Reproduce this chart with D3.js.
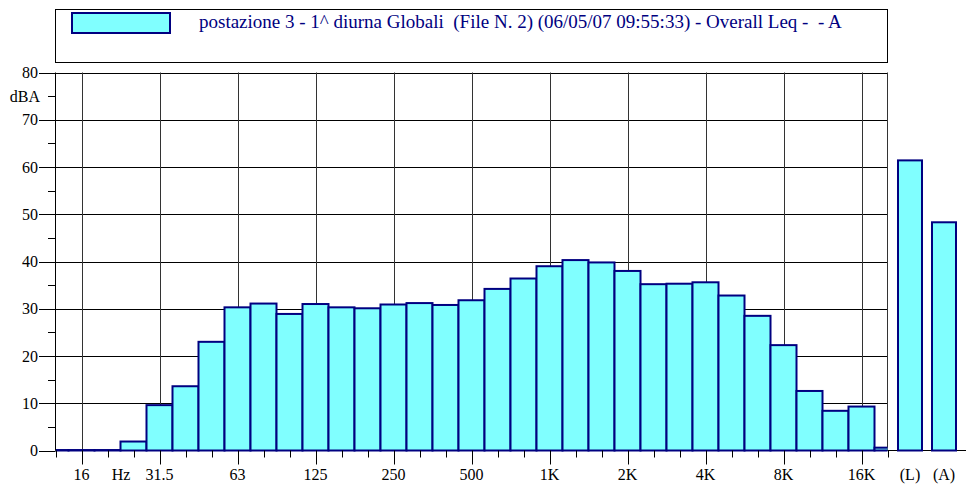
<!DOCTYPE html>
<html>
<head>
<meta charset="utf-8">
<script src="https://cdn.jsdelivr.net/npm/d3@7"></script>
<style>
  html, body { margin: 0; padding: 0; background: #fff; }
  svg { display: block; }
</style>
</head>
<body>
<svg id="chart" width="966" height="485" font-family="'Liberation Serif', 'Times New Roman', Times, 'DejaVu Serif', serif"></svg>
<script>
// ---- Data ----
const bands = ["12.5","16","20","25","31.5","40","50","63","80","100","125","160","200","250","315","400","500","630","800","1K","1.25K","1.6K","2K","2.5K","3.15K","4K","5K","6.3K","8K","10K","12.5K","16K","20K"];
const levels = [0.1,0.1,0.1,1.9,9.6,13.6,23.0,30.3,31.1,28.9,31.0,30.3,30.1,30.9,31.2,30.8,31.8,34.2,36.4,39.0,40.3,39.8,38.0,35.2,35.3,35.6,32.8,28.5,22.3,12.6,8.4,9.3,0.6];
const labeledBands = ["16","31.5","63","125","250","500","1K","2K","4K","8K","16K"];
const totalLabels = ["(L)","(A)"];
const totalValues = [61.4,48.3];
const yTicksMajor = [0,10,20,30,40,50,60,70,80];
const yTicksMinor = [5,15,25,35,45,55,65,75];
const legendText = "postazione 3 - 1^ diurna Globali  (File N. 2) (06/05/07 09:55:33) - Overall Leq -  - A";

// ---- Layout ----
const fill = "#80FFFF", stroke = "#000080";
const plotL = 55.5, plotR = 887.5, plotT = 72.5, plotB = 450.5;
const axisFont = 16;
const svg = d3.select("#chart");

const x = d3.scalePoint().domain(bands).range([55.5, 887.5]).padding(0);
const step = x.step();
const y = d3.scaleLinear().domain([0, 80]).range([plotB, plotT]);
const xt = d3.scaleBand().domain(totalLabels).range([893, 961]).paddingInner(0.294).paddingOuter(0.147);

// clip
svg.append("defs").append("clipPath").attr("id", "plotclip")
  .append("rect").attr("x", plotL).attr("y", 0).attr("width", plotR - plotL).attr("height", plotB + 2);

// legend
const lg = svg.append("g");
lg.append("rect").attr("x", 55.5).attr("y", 9.5).attr("width", 832).attr("height", 53)
  .attr("fill", "none").attr("stroke", "#000").attr("stroke-width", 1);
lg.append("rect").attr("x", 72).attr("y", 13).attr("width", 98).attr("height", 20)
  .attr("fill", fill).attr("stroke", stroke).attr("stroke-width", 2);
lg.append("text").attr("x", 199).attr("y", 27.7).attr("fill", "#000080")
  .attr("font-size", 19).style("white-space", "pre").text(legendText);

// horizontal grid
svg.append("g").selectAll("line").data(yTicksMajor.filter(d => d > 0)).join("line")
  .attr("x1", plotL).attr("x2", plotR)
  .attr("y1", d => Math.round(y(d)) + 0.5).attr("y2", d => Math.round(y(d)) + 0.5)
  .attr("stroke", "#000").attr("stroke-width", 1);

// vertical grid
svg.append("g").selectAll("line").data(labeledBands).join("line")
  .attr("x1", d => Math.round(x(d)) + 0.5).attr("x2", d => Math.round(x(d)) + 0.5)
  .attr("y1", plotT).attr("y2", plotB)
  .attr("stroke", "#333").attr("stroke-width", 1);
// right frame
svg.append("line").attr("x1", plotR).attr("x2", plotR).attr("y1", plotT).attr("y2", plotB)
  .attr("stroke", "#333").attr("stroke-width", 1);

// x axis baseline (main + totals)
svg.append("line").attr("x1", plotL).attr("x2", 966).attr("y1", plotB).attr("y2", plotB)
  .attr("stroke", "#000").attr("stroke-width", 1);

// bars
svg.append("g").attr("clip-path", "url(#plotclip)").selectAll("rect").data(bands).join("rect")
  .attr("x", d => x(d) - step / 2)
  .attr("width", step)
  .attr("y", (d, i) => y(levels[i]))
  .attr("height", (d, i) => y(0) - y(levels[i]))
  .attr("fill", fill).attr("stroke", stroke).attr("stroke-width", 2);

// total bars
svg.append("g").selectAll("rect").data(totalLabels).join("rect")
  .attr("x", d => xt(d)).attr("width", xt.bandwidth())
  .attr("y", (d, i) => y(totalValues[i]))
  .attr("height", (d, i) => y(0) - y(totalValues[i]))
  .attr("fill", fill).attr("stroke", stroke).attr("stroke-width", 2);

// y axis
const ya = svg.append("g");
ya.append("line").attr("x1", plotL).attr("x2", plotL).attr("y1", plotT).attr("y2", plotB)
  .attr("stroke", "#000").attr("stroke-width", 1);
ya.selectAll("line.maj").data(yTicksMajor).join("line").attr("class", "maj")
  .attr("x1", 39).attr("x2", plotL)
  .attr("y1", d => Math.round(y(d)) + 0.5).attr("y2", d => Math.round(y(d)) + 0.5)
  .attr("stroke", "#000");
ya.selectAll("line.min").data(yTicksMinor).join("line").attr("class", "min")
  .attr("x1", 48).attr("x2", plotL)
  .attr("y1", d => Math.round(y(d)) + 0.5).attr("y2", d => Math.round(y(d)) + 0.5)
  .attr("stroke", "#000");
ya.selectAll("text").data(yTicksMajor).join("text")
  .attr("x", 38).attr("y", d => y(d)).attr("dy", "0.35em")
  .attr("text-anchor", "end").attr("font-size", axisFont).attr("fill", "#000").text(d => d);
ya.append("text").attr("x", 40).attr("y", y(75)).attr("dy", "0.35em")
  .attr("text-anchor", "end").attr("font-size", axisFont).attr("fill", "#000").text("dBA");

// x axis ticks
const xa = svg.append("g");
xa.selectAll("line").data(bands).join("line")
  .attr("x1", d => Math.round(x(d)) + 0.5).attr("x2", d => Math.round(x(d)) + 0.5)
  .attr("y1", plotB)
  .attr("y2", d => labeledBands.includes(d) ? plotB + 14 : plotB + 7)
  .attr("stroke", "#000");
xa.selectAll("text.lab").data(labeledBands).join("text").attr("class", "lab")
  .attr("x", d => x(d)).attr("y", 480)
  .attr("text-anchor", "middle").attr("font-size", axisFont).text(d => d);
xa.append("text").attr("x", 121).attr("y", 480).attr("text-anchor", "middle").attr("font-size", axisFont).text("Hz");
xa.selectAll("text.tot").data(totalLabels).join("text").attr("class", "tot")
  .attr("x", d => xt(d) + xt.bandwidth() / 2).attr("y", 480)
  .attr("text-anchor", "middle").attr("font-size", axisFont).text(d => d);
</script>
</body>
</html>
